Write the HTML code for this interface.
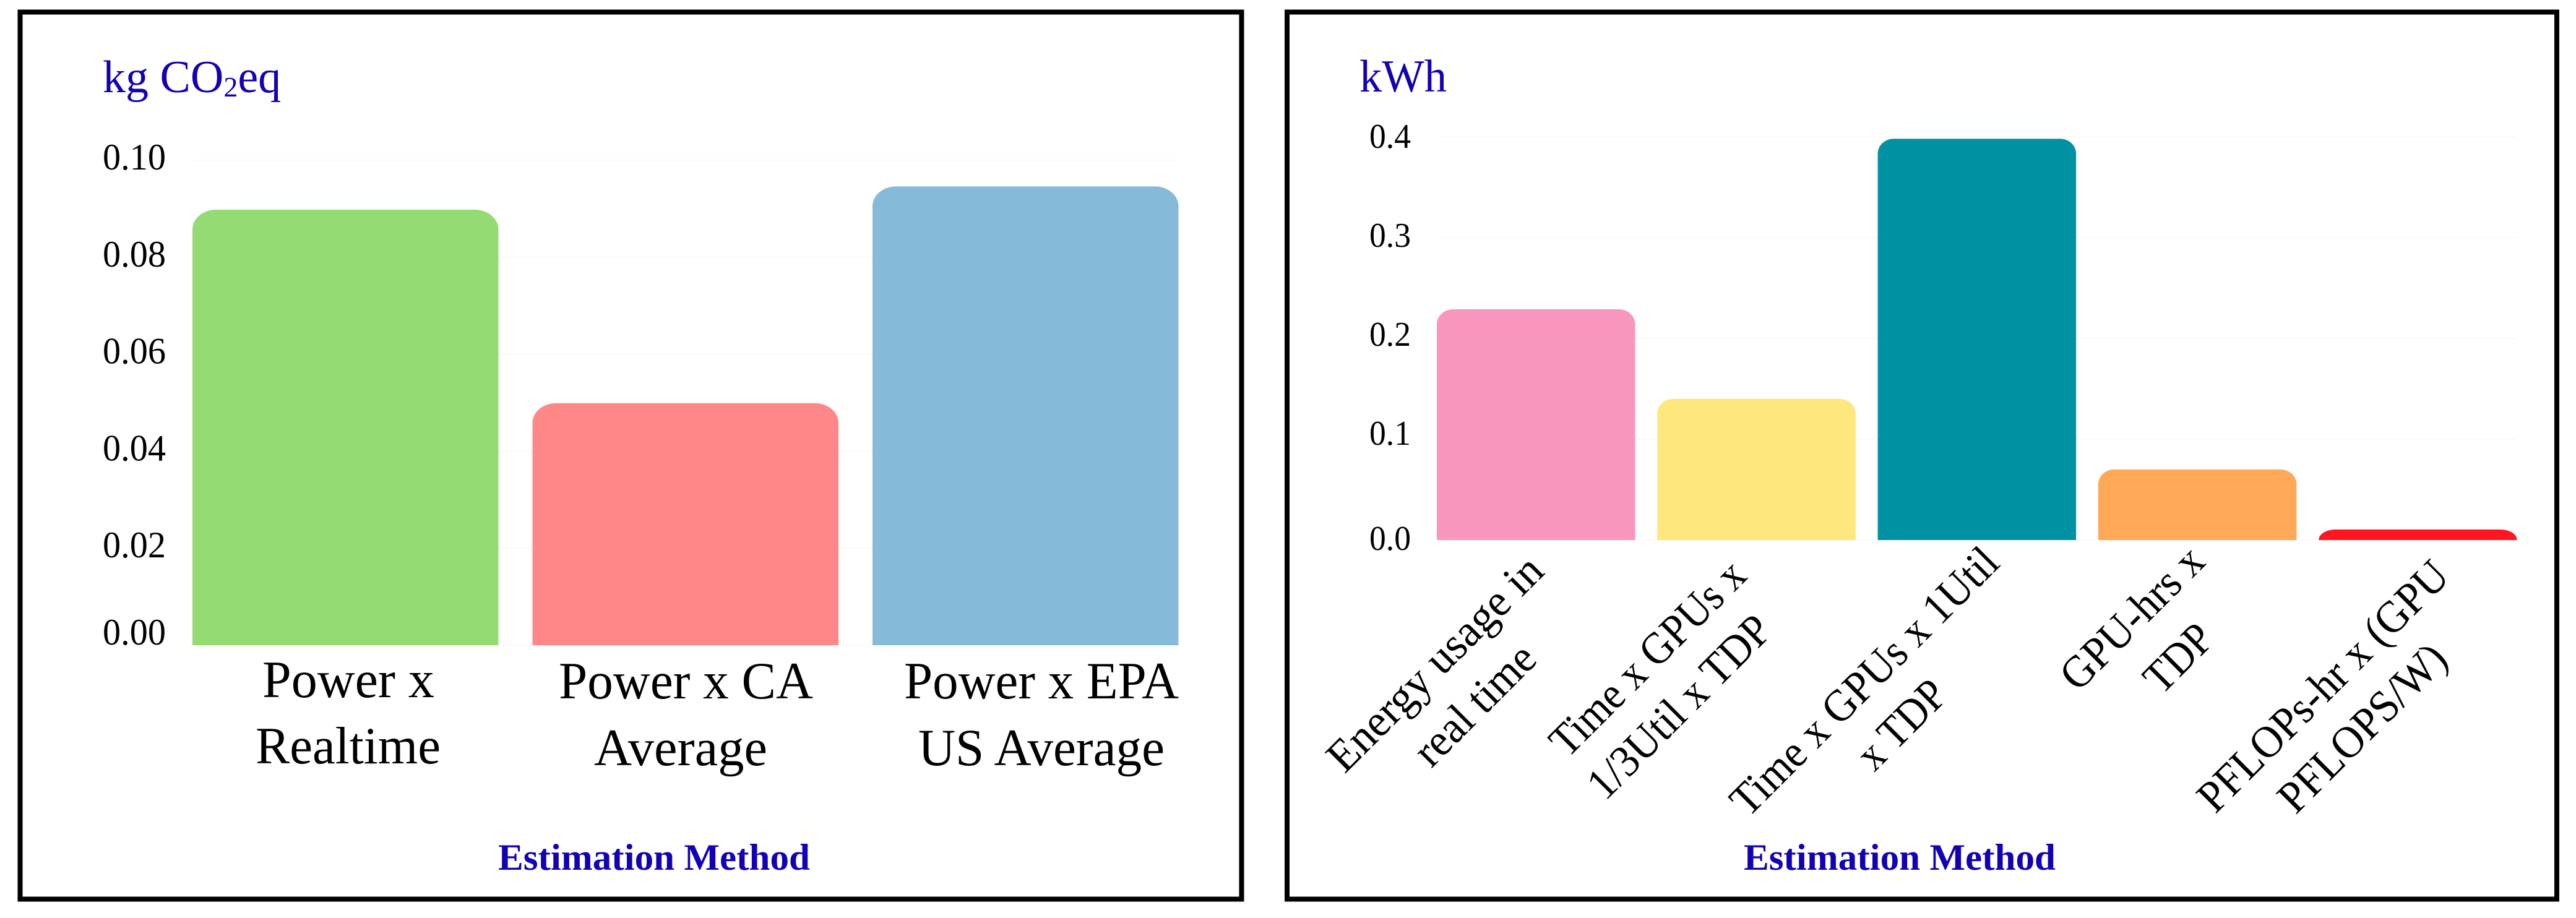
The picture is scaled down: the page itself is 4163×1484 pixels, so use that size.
<!DOCTYPE html>
<html lang="en">
<head>
<meta charset="utf-8">
<title>Estimation method comparison</title>
<style>
html,body{margin:0;padding:0;background:#fff;width:4163px;height:1484px;overflow:hidden}
svg{display:block;position:absolute;left:0;top:0}
text{font-family:"Liberation Serif",serif;fill:#000}
.blue{fill:#1200b5}
.cat{font-size:85px}
.rot{font-size:73px}
.axis-title{font-size:60px;font-weight:bold}
.unit{font-size:74px}
</style>
</head>
<body>
<svg id="chart" width="4163" height="1484" viewBox="0 0 4163 1484" xmlns="http://www.w3.org/2000/svg">
  <rect x="0" y="0" width="4163" height="1484" fill="#fff"/>
  <rect x="32.5" y="19.5" width="1974" height="1434" fill="#fff" stroke="#000" stroke-width="8"/>
  <rect x="2080" y="19.5" width="2052" height="1434" fill="#fff" stroke="#000" stroke-width="8"/>

  <g id="left-grid"></g>
  <g id="left-bars"></g>
  <g id="left-ticks"></g>
  <g id="right-grid"></g>
  <g id="right-bars"></g>
  <g id="right-ticks"></g>

  <text class="unit blue" x="166" y="149">kg CO<tspan font-size="46" dy="7">2</tspan><tspan dy="-7">eq</tspan></text>
  <text class="unit blue" x="2197" y="148" textLength="141" lengthAdjust="spacingAndGlyphs">kWh</text>

  <g>
    <text class="cat" x="424" y="1127" textLength="278" lengthAdjust="spacingAndGlyphs">Power x</text>
    <text class="cat" x="413" y="1234" textLength="299" lengthAdjust="spacingAndGlyphs">Realtime</text>
    <text class="cat" x="903" y="1129" textLength="411" lengthAdjust="spacingAndGlyphs">Power x CA</text>
    <text class="cat" x="960" y="1237" textLength="280" lengthAdjust="spacingAndGlyphs">Average</text>
    <text class="cat" x="1461" y="1129" textLength="444" lengthAdjust="spacingAndGlyphs">Power x EPA</text>
    <text class="cat" x="1484" y="1237" textLength="398" lengthAdjust="spacingAndGlyphs">US Average</text>
  </g>

  <g>
    <text class="rot" transform="translate(2173,1252) rotate(-45)" textLength="460" lengthAdjust="spacingAndGlyphs">Energy usage in</text>
    <text class="rot" transform="translate(2313,1243) rotate(-45)" textLength="246" lengthAdjust="spacingAndGlyphs">real time</text>
    <text class="rot" transform="translate(2533,1227) rotate(-45)" textLength="414" lengthAdjust="spacingAndGlyphs">Time x GPUs x</text>
    <text class="rot" transform="translate(2594,1296) rotate(-45)" textLength="386" lengthAdjust="spacingAndGlyphs">1/3Util x TDP</text>
    <text class="rot" transform="translate(2825,1323) rotate(-45)" textLength="579" lengthAdjust="spacingAndGlyphs">Time x GPUs x 1Util</text>
    <text class="rot" transform="translate(3029,1249) rotate(-45)" textLength="172" lengthAdjust="spacingAndGlyphs">x TDP</text>
    <text class="rot" transform="translate(3358,1120) rotate(-45)" textLength="295" lengthAdjust="spacingAndGlyphs">GPU-hrs x</text>
    <text class="rot" transform="translate(3493,1125) rotate(-45)" textLength="125" lengthAdjust="spacingAndGlyphs">TDP</text>
    <text class="rot" transform="translate(3580,1317) rotate(-45)" textLength="540" lengthAdjust="spacingAndGlyphs">PFLOPs-hr x (GPU</text>
    <text class="rot" transform="translate(3710,1318) rotate(-45)" textLength="352" lengthAdjust="spacingAndGlyphs">PFLOPS/W)</text>
  </g>

  <text class="axis-title blue" x="805" y="1406" textLength="504" lengthAdjust="spacingAndGlyphs">Estimation Method</text>
  <text class="axis-title blue" x="2818" y="1406" textLength="504" lengthAdjust="spacingAndGlyphs">Estimation Method</text>
</svg>
<script>
const leftCategories = ['power-realtime', 'power-ca-average', 'power-epa-us-average'];
const leftValues = [0.0898, 0.0499, 0.0946];
const leftColors = ['#95db74', '#ff8787', '#85bbd8'];
const leftTicks = [0, 0.02, 0.04, 0.06, 0.08, 0.10];
const leftTickLabels = ['0.00', '0.02', '0.04', '0.06', '0.08', '0.10'];

const rightCategories = ['energy-real-time', 'third-util-tdp', 'full-util-tdp', 'gpu-hrs-tdp', 'pflops-hr'];
const rightValues = [0.2288, 0.14, 0.398, 0.07, 0.0104];
const rightColors = ['#f896bd', '#fee77c', '#0092a3', '#fea858', '#ff1620'];
const rightTicks = [0, 0.1, 0.2, 0.3, 0.4];
const rightTickLabels = ['0.0', '0.1', '0.2', '0.3', '0.4'];

const NS = 'http://www.w3.org/2000/svg';

function leftY(v) { return 1043 - v * 7840; }
function leftX(i) { return 311 + i * 549.5; }
function leftTickBaseline(v) { return Math.min(leftY(v) + 15, 1042); }
function rightY(v) { return 873 - v * 1630; }
function rightX(i) { return 2322 + i * 356.3; }
function rightTickBaseline(v) { return v === 0 ? 889 : 559 + (0.2 - v) * 1600; }

function barPath(x, w, top, base, rx, ry) {
  const r = Math.min(ry, base - top);
  return 'M' + x + ' ' + base + 'V' + (top + r) +
    'A' + rx + ' ' + r + ' 0 0 1 ' + (x + rx) + ' ' + top +
    'H' + (x + w - rx) +
    'A' + rx + ' ' + r + ' 0 0 1 ' + (x + w) + ' ' + (top + r) +
    'V' + base + 'Z';
}

function drawGrid(id, ticks, yFn, x1, x2) {
  const g = document.getElementById(id);
  ticks.forEach(function (t) {
    const line = document.createElementNS(NS, 'line');
    
    
    line.setAttribute('x1', x1);
    line.setAttribute('x2', x2);
    line.setAttribute('y1', yFn(t));
    line.setAttribute('y2', yFn(t));
    line.setAttribute('stroke', '#f9f9f9');
    line.setAttribute('stroke-width', 2);
    g.appendChild(line);
  });
}

function drawBars(id, cats, values, colors, xFn, yFn, width, rx, ry) {
  const g = document.getElementById(id);
  values.forEach(function (v, i) {
    const p = document.createElementNS(NS, 'path');
    
    
    p.setAttribute('d', barPath(xFn(i), width, yFn(v), yFn(0), rx, ry));
    p.setAttribute('fill', colors[i]);
    g.appendChild(p);
  });
}

function drawTicks(id, ticks, labels, baselineFn, x, size, width) {
  const g = document.getElementById(id);
  ticks.forEach(function (t, i) {
    const el = document.createElementNS(NS, 'text');
    
    
    el.setAttribute('x', x);
    el.setAttribute('y', baselineFn(t));
    el.setAttribute('font-size', size);
    el.setAttribute('textLength', width);
    el.setAttribute('lengthAdjust', 'spacingAndGlyphs');
    el.textContent = labels[i];
    g.appendChild(el);
  });
}

drawGrid('left-grid', leftTicks, leftY, 311, 1905);
drawBars('left-bars', leftCategories, leftValues, leftColors, leftX, leftY, 494.5, 38, 32);
drawTicks('left-ticks', leftTicks, leftTickLabels, leftTickBaseline, 166, 60, 102);

drawGrid('right-grid', rightTicks, rightY, 2327, 4066);
drawBars('right-bars', rightCategories, rightValues, rightColors, rightX, rightY, 320.5, 26, 24);
drawTicks('right-ticks', rightTicks, rightTickLabels, rightTickBaseline, 2213, 56, 67);
</script>
</body>
</html>
